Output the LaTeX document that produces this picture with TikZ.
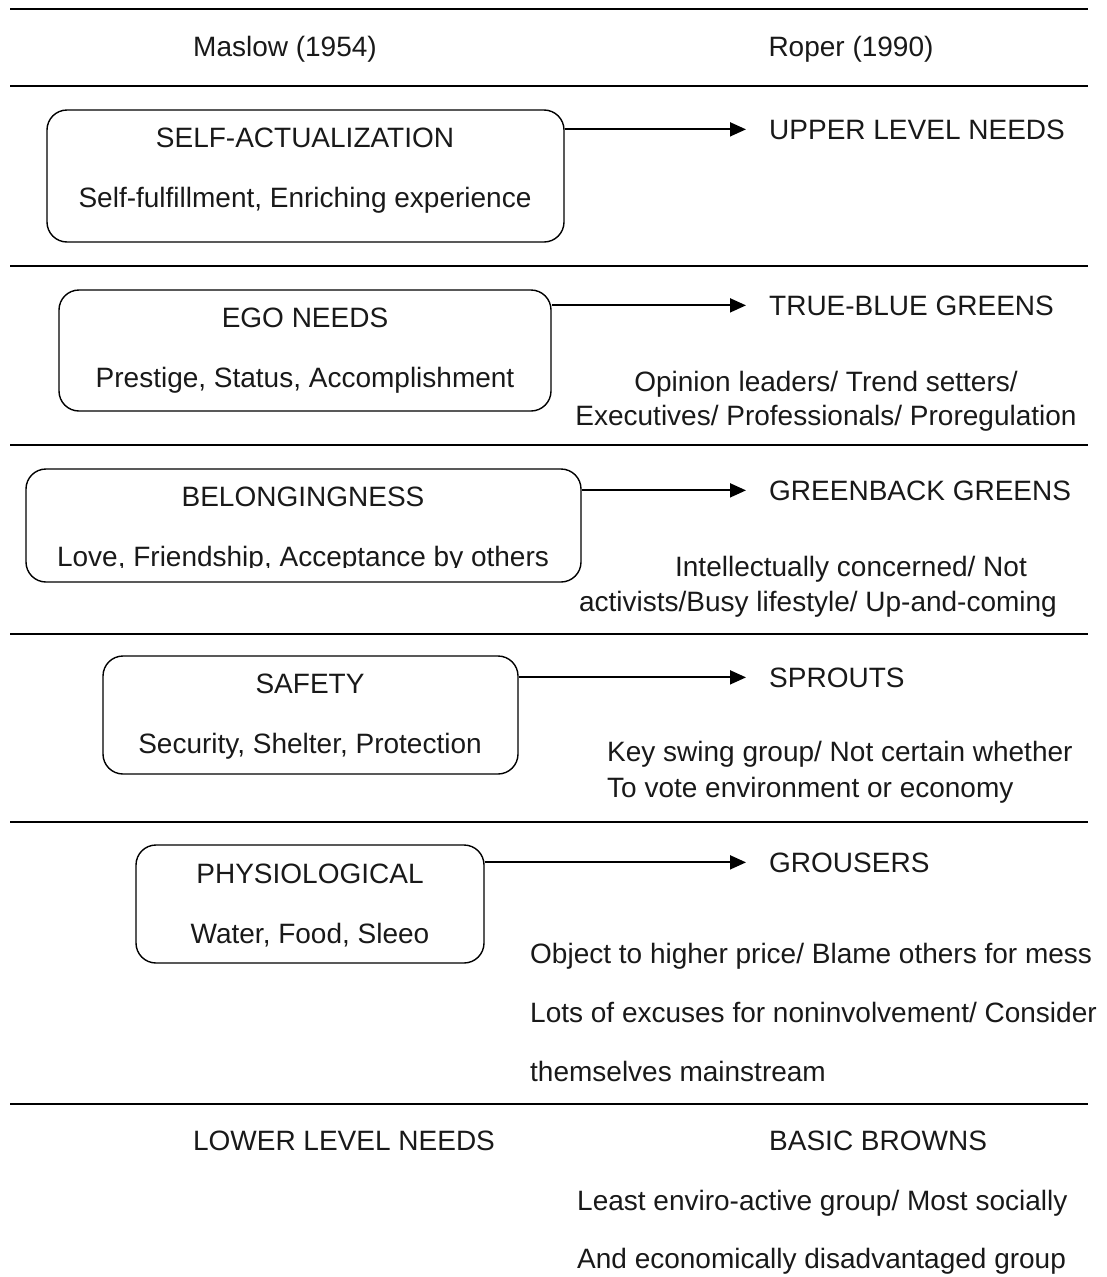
\documentclass[tikz,border=0pt]{standalone}
\usepackage{fontspec}
\setmainfont{Liberation Sans}
\usetikzlibrary{arrows.meta}

\begin{document}
\begin{tikzpicture}[x=1pt,y=-1pt,
  txt/.style={inner sep=0pt,font=\fontsize{28}{34}\selectfont,text=black!90},
  ctext/.style={txt,anchor=base},
  ltext/.style={txt,anchor=base west},
  needbox/.style={draw,line width=1.4pt,rounded corners=20pt,inner sep=0pt},
  rule/.style={line width=2.8pt},
  arr/.style={line width=1.8pt,-{Triangle[length=16pt,width=14pt]}}]
\useasboundingbox (0,0) rectangle (1107,1277);

% horizontal rules separating the rows
\foreach \yy in {9,86,266,445,634,822,1104}
  \draw[rule] (10,\yy) -- (1088,\yy);

% column headings
\node[ctext] (maslow) at (285,56) {Maslow (1954)};
\node[ctext] (roper) at (851,56) {Roper (1990)};

% Maslow's levels
\node[needbox,minimum width=517pt,minimum height=132pt] (b1) at (305.5,176) {};
\node[ctext] (t1) at (305,147) {SELF-ACTUALIZATION};
\node[ctext] (s1) at (305,207) {Self-fulfillment, Enriching experience};

\node[needbox,minimum width=492pt,minimum height=121pt] (b2) at (305,350.5) {};
\node[ctext] (t2) at (305,327) {EGO NEEDS};
\node[ctext] (s2) at (305,387) {Prestige, Status, Accomplishment};

\node[needbox,minimum width=555pt,minimum height=113pt] (b3) at (303.5,525.5) {};
\node[ctext] (t3) at (303,506) {BELONGINGNESS};
\begin{scope}
  \clip (20,540) rectangle (590,567.5);
  \node[ctext] (s3) at (303,566) {Love, Friendship, Acceptance by others};
\end{scope}

\node[needbox,minimum width=415pt,minimum height=118pt] (b4) at (310.5,715) {};
\node[ctext] (t4) at (310,693) {SAFETY};
\node[ctext] (s4) at (310,753) {Security, Shelter, Protection};

\node[needbox,minimum width=348pt,minimum height=118pt] (b5) at (310,904) {};
\node[ctext] (t5) at (310,883) {PHYSIOLOGICAL};
\node[ctext] (s5) at (310,943) {Water, Food, Sleeo};

\node[ctext] (t6) at (344,1150) {LOWER LEVEL NEEDS};

% Roper's groups
\node[ltext] (h1) at (769,139) {UPPER LEVEL NEEDS};

\node[ltext] (h2) at (769,315) {TRUE-BLUE GREENS};
\node[ctext] (d2a) at (826,391) {Opinion leaders/ Trend setters/};
\node[ctext] (d2b) at (826,425) {Executives/ Professionals/ Proregulation};

\node[ltext] (h3) at (769,500) {GREENBACK GREENS};
\node[ctext] (d3a) at (851,576) {Intellectually concerned/ Not};
\node[ctext] (d3b) at (818,611) {activists/Busy lifestyle/ Up-and-coming};

\node[ltext] (h4) at (769,687) {SPROUTS};
\node[ltext] (d4a) at (607,761) {Key swing group/ Not certain whether};
\node[ltext] (d4b) at (607,797) {To vote environment or economy};

\node[ltext] (h5) at (769,872) {GROUSERS};
\node[ltext] (d5a) at (530,963) {Object to higher price/ Blame others for mess};
\node[ltext] (d5b) at (530,1022) {Lots of excuses for noninvolvement/ Consider};
\node[ltext] (d5c) at (530,1081) {themselves mainstream};

\node[ltext] (h6) at (769,1150) {BASIC BROWNS};
\node[ltext] (d6a) at (577,1210) {Least enviro-active group/ Most socially};
\node[ltext] (d6b) at (577,1268) {And economically disadvantaged group};

% links from each need level to its group
\draw[arr] (b1.east |- h1.west) -- ([xshift=-23pt]h1.west);
\draw[arr] (b2.east |- h2.west) -- ([xshift=-23pt]h2.west);
\draw[arr] (b3.east |- h3.west) -- ([xshift=-23pt]h3.west);
\draw[arr] (b4.east |- h4.west) -- ([xshift=-23pt]h4.west);
\draw[arr] (b5.east |- h5.west) -- ([xshift=-23pt]h5.west);
\end{tikzpicture}
\end{document}
